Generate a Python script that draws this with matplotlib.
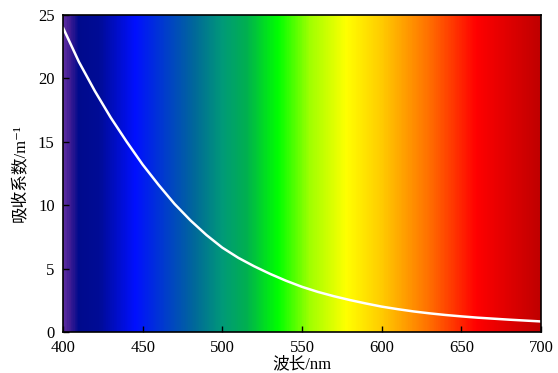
import numpy as np
import matplotlib
matplotlib.use("Agg")
from matplotlib import pyplot as plt
from matplotlib.colors import LinearSegmentedColormap, Normalize

plt.rcParams['font.family'] = ['Liberation Serif', 'Noto Sans CJK SC', 'DejaVu Serif']

# absorption curve
wavelength = [400, 410, 420, 430, 440, 450, 460, 470, 480, 490, 500, 510, 520, 530, 540, 550,
              560, 570, 580, 590, 600, 610, 620, 630, 640, 650, 660, 670, 680, 690, 700]
absorption = [24.0, 21.3, 19.0, 16.9, 15.0, 13.2, 11.6, 10.1, 8.8, 7.65, 6.65, 5.85, 5.18, 4.58, 4.04, 3.56,
              3.16, 2.82, 2.52, 2.25, 2.0, 1.8, 1.62, 1.47, 1.34, 1.23, 1.13, 1.05, 0.97, 0.9, 0.83]

xticks = [400, 450, 500, 550, 600, 650, 700]
yticks = [0, 5, 10, 15, 20, 25]

# spectrum background stops (nm, colour)
spec_nm = [400, 404, 409, 422, 445, 465, 482, 500, 515, 535, 555, 578, 600, 630, 660, 700]
spec_col = ['#5a2ca0', '#3a1a92', '#000a8c', '#000c96', '#0010ff', '#0040c8', '#00689a',
            '#009a78', '#00b050', '#00ff00', '#a0ff00', '#ffff00', '#ffcc00', '#ff7000',
            '#ff0000', '#c00000']

norm = Normalize(400, 700)
cmap = LinearSegmentedColormap.from_list(
    'spec', [(norm(n), c) for n, c in zip(spec_nm, spec_col)])

fig = plt.figure(figsize=(5.58, 3.73), dpi=100)
ax = fig.add_axes([0.1129, 0.110, 0.8566, 0.8498])

grad = np.linspace(400, 700, 600).reshape(1, -1)
ax.imshow(grad, cmap=cmap, norm=norm, extent=[400, 700, 0, 25], aspect='auto', zorder=0)

ax.plot(wavelength, absorption, color='white', lw=1.8, zorder=2,
        solid_joinstyle='round', solid_capstyle='round')

ax.set_xlim(400, 700)
ax.set_ylim(0, 25)
ax.set_xticks(xticks)
ax.set_yticks(yticks)
ax.tick_params(direction='in', length=4, width=1, labelsize=12, top=False, right=False)
ax.tick_params(axis='x', pad=6)
ax.tick_params(axis='y', pad=6)
for s in ax.spines.values():
    s.set_linewidth(1.2)

ax.set_xlabel('波长/nm', fontsize=12, labelpad=0)
ax.set_ylabel('吸收系数/m⁻¹', fontsize=12, labelpad=7)

fig.savefig('out.png', dpi=100)
